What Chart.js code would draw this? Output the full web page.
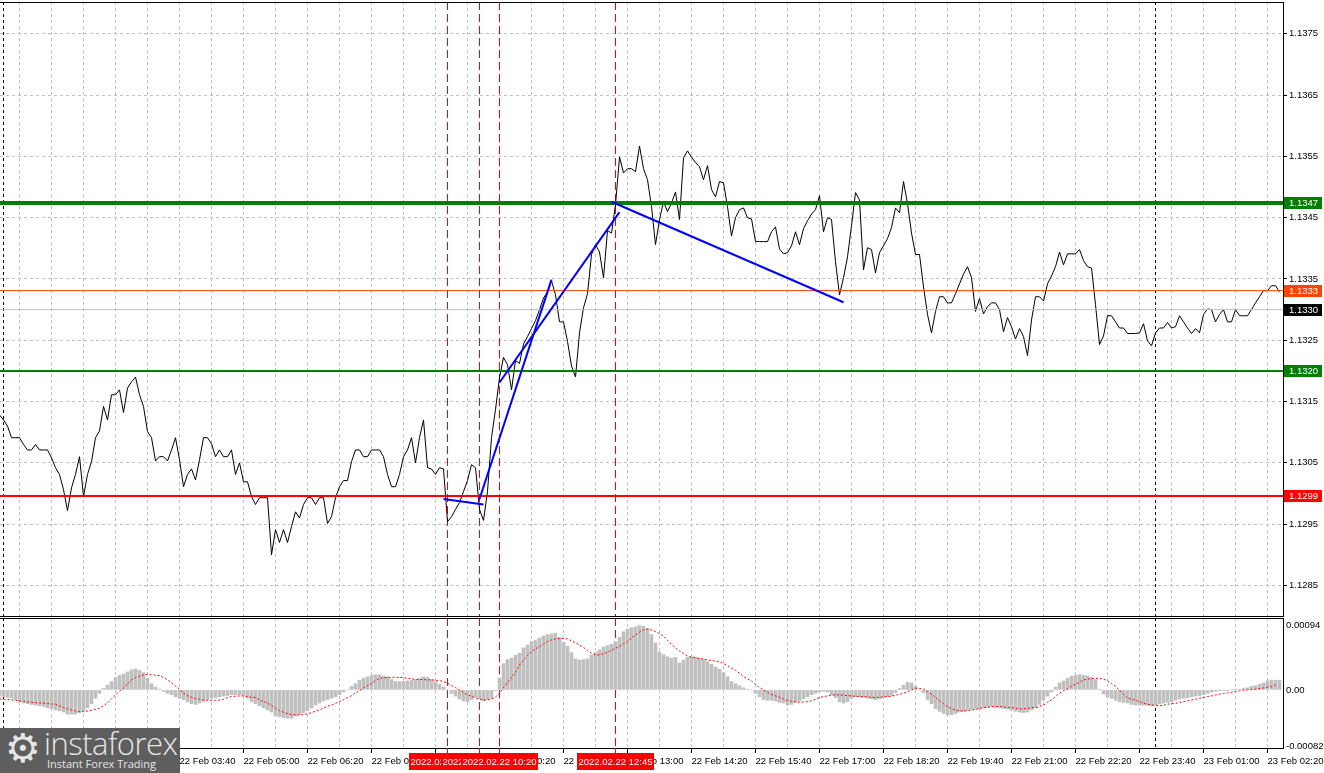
<!DOCTYPE html>
<html>
<head>
<meta charset="utf-8">
<script src="https://cdn.jsdelivr.net/npm/chart.js@4.4.1/dist/chart.umd.min.js"></script>
<style>
  body { margin: 0; background: #fff; }
  #wrap { position: relative; width: 1324px; height: 773px; overflow: hidden; background: #fff; }
  #price { position: absolute; left: 0; top: 0; }
  #macd { position: absolute; left: 0; top: 617px; }
  #logo { position: absolute; left: 0; top: 728px; width: 180px; height: 45px; background: #5e5e5e; color: #e6e6e6; font-family: "Open Sans", "DejaVu Sans", sans-serif; overflow: hidden; }
  #logo .gear { position: absolute; left: 5px; top: -1px; font-size: 40px; line-height: 42px; font-family: "DejaVu Sans"; }
  #logo .brand { position: absolute; left: 44px; top: -3px; font-size: 31px; line-height: 36px; font-weight: 300; letter-spacing: -0.5px; }
  #logo .tag { position: absolute; left: 47px; top: 29px; font-size: 11px; line-height: 13px; }
</style>
</head>
<body>
<div id="wrap">
  <canvas id="price" width="1324" height="617"></canvas>
  <canvas id="macd" width="1324" height="156"></canvas>
  <div id="logo"><span class="gear">⚙</span><span class="brand">instaforex</span><span class="tag">Instant Forex Trading</span></div>
</div>
<script>
// EURUSD M5, 22 Feb 2022. Bar 0 = 22 Feb 00:00, one bar = 5 minutes.
const firstBar = -1;
const closes = [
  1.13128, 1.13120, 1.13110, 1.13091, 1.13091, 1.13091, 1.13080, 1.13071, 1.13071, 1.13080,
  1.13071, 1.13071, 1.13071, 1.13058, 1.13042, 1.13031, 1.13006, 1.12972, 1.13009, 1.13031,
  1.13060, 1.12995, 1.13031, 1.13052, 1.13091, 1.13102, 1.13142, 1.13120, 1.13161, 1.13161,
  1.13169, 1.13132, 1.13172, 1.13182, 1.13190, 1.13161, 1.13142, 1.13101, 1.13091, 1.13053,
  1.13060, 1.13060, 1.13053, 1.13071, 1.13091, 1.13055, 1.13011, 1.13031, 1.13040, 1.13022,
  1.13055, 1.13091, 1.13091, 1.13081, 1.13060, 1.13071, 1.13060, 1.13060, 1.13071, 1.13031,
  1.13050, 1.13019, 1.13019, 1.12995, 1.12982, 1.12993, 1.12993, 1.12993, 1.12900, 1.12941,
  1.12920, 1.12941, 1.12920, 1.12946, 1.12970, 1.12960, 1.12982, 1.12993, 1.12993, 1.12982,
  1.12993, 1.12993, 1.12951, 1.12962, 1.12993, 1.13011, 1.13021, 1.13021, 1.13052, 1.13071,
  1.13071, 1.13060, 1.13060, 1.13071, 1.13071, 1.13071, 1.13060, 1.13031, 1.13011, 1.13011,
  1.13031, 1.13060, 1.13071, 1.13091, 1.13050, 1.13091, 1.13120, 1.13042, 1.13040, 1.13031,
  1.13042, 1.13040, 1.12954, 1.12962, 1.12974, 1.12985, 1.13003, 1.13021, 1.13047, 1.13042,
  1.12974, 1.12956, 1.13003, 1.13091, 1.13137, 1.13189, 1.13222, 1.13210, 1.13169, 1.13217,
  1.13212, 1.13244, 1.13256, 1.13269, 1.13282, 1.13300, 1.13319, 1.13329, 1.13347, 1.13324,
  1.13280, 1.13280, 1.13248, 1.13208, 1.13190, 1.13262, 1.13303, 1.13326, 1.13390, 1.13406,
  1.13394, 1.13352, 1.13429, 1.13425, 1.13471, 1.13549, 1.13523, 1.13530, 1.13530, 1.13525,
  1.13567, 1.13530, 1.13512, 1.13468, 1.13406, 1.13447, 1.13476, 1.13460, 1.13474, 1.13492,
  1.13447, 1.13548, 1.13559, 1.13549, 1.13540, 1.13533, 1.13512, 1.13535, 1.13496, 1.13484,
  1.13509, 1.13507, 1.13468, 1.13420, 1.13450, 1.13463, 1.13466, 1.13450, 1.13448, 1.13411,
  1.13411, 1.13411, 1.13411, 1.13427, 1.13435, 1.13399, 1.13391, 1.13393, 1.13404, 1.13427,
  1.13406, 1.13432, 1.13445, 1.13456, 1.13463, 1.13486, 1.13427, 1.13450, 1.13447, 1.13378,
  1.13324, 1.13352, 1.13386, 1.13437, 1.13491, 1.13479, 1.13365, 1.13401, 1.13398, 1.13360,
  1.13393, 1.13404, 1.13416, 1.13434, 1.13466, 1.13458, 1.13509, 1.13473, 1.13425, 1.13390,
  1.13390, 1.13337, 1.13292, 1.13262, 1.13297, 1.13321, 1.13321, 1.13311, 1.13311, 1.13326,
  1.13342, 1.13358, 1.13370, 1.13352, 1.13297, 1.13318, 1.13293, 1.13305, 1.13311, 1.13311,
  1.13300, 1.13264, 1.13287, 1.13272, 1.13252, 1.13269, 1.13256, 1.13225, 1.13283, 1.13321,
  1.13321, 1.13314, 1.13342, 1.13355, 1.13370, 1.13394, 1.13373, 1.13391, 1.13391, 1.13391,
  1.13398, 1.13380, 1.13370, 1.13368, 1.13308, 1.13243, 1.13257, 1.13290, 1.13290, 1.13280,
  1.13270, 1.13270, 1.13261, 1.13261, 1.13261, 1.13262, 1.13277, 1.13249, 1.13241, 1.13262,
  1.13270, 1.13270, 1.13279, 1.13270, 1.13272, 1.13290, 1.13280, 1.13270, 1.13261, 1.13269,
  1.13262, 1.13292, 1.13301, 1.13300, 1.13280, 1.13292, 1.13300, 1.13280, 1.13280, 1.13300,
  1.13290, 1.13290, 1.13290, 1.13300, 1.13311, 1.13321, 1.13331, 1.13331, 1.13339, 1.13339, 1.13329
];

// MACD histogram and signal, in units of 0.00001
const macdHist = [
  -9, -10, -11, -12, -14, -17, -19, -20, -21, -22,
  -23, -24, -26, -27, -29, -30, -32, -35, -35, -35,
  -33, -31, -26, -20, -12, -5, 2, 7, 12, 18,
  21, 23, 26, 29, 30, 28, 25, 17, 9, 4,
  1, -2, -5, -7, -10, -12, -14, -17, -20, -21,
  -19, -17, -14, -12, -11, -10, -9, -8, -7, -7,
  -7, -8, -12, -17, -20, -23, -26, -29, -32, -37,
  -39, -40, -41, -41, -38, -36, -33, -30, -26, -22,
  -19, -16, -14, -12, -10, -7, -3, 0, 5, 9,
  14, 17, 19, 21, 22, 22, 20, 19, 15, 12,
  12, 12, 13, 14, 15, 17, 19, 18, 15, 12,
  8, 4, 0, -5, -9, -13, -16, -17, -14, -10,
  -13, -16, -14, -12, -1, 17, 38, 44, 46, 50,
  53, 61, 65, 70, 72, 75, 78, 80, 81, 82,
  76, 69, 63, 54, 45, 43, 44, 45, 50, 54,
  58, 62, 64, 66, 70, 76, 84, 88, 90, 91,
  93, 92, 89, 80, 68, 55, 51, 48, 46, 47,
  39, 43, 47, 48, 47, 46, 44, 41, 37, 33,
  30, 25, 19, 12, 9, 6, 3, 1, 0, -5,
  -10, -14, -15, -15, -16, -18, -19, -22, -21, -18,
  -16, -13, -10, -7, -5, -3, -2, -3, -7, -11,
  -17, -19, -17, -12, -10, -10, -11, -12, -13, -14,
  -13, -11, -10, -8, -4, 2, 7, 11, 10, 5,
  0, -4, -14, -20, -27, -31, -34, -36, -36, -34,
  -32, -31, -29, -28, -27, -27, -26, -25, -24, -25,
  -26, -27, -28, -29, -31, -32, -33, -32, -29, -26,
  -21, -15, -9, -3, 4, 10, 13, 17, 20, 21,
  22, 21, 20, 18, 15, 1, -6, -10, -12, -15,
  -17, -18, -19, -21, -22, -22, -22, -22, -23, -22,
  -20, -19, -18, -17, -15, -13, -12, -11, -10, -9,
  -8, -7, -5, -3, -2, -1, -1, -1, 0, 1,
  1, 2, 3, 5, 6, 8, 10, 13, 14, 14, 14
];
const macdSignal = [
  -13, -13.5, -14, -14.5, -15, -16, -16.4, -17.4, -17.8, -18.3,
  -18.8, -19.3, -19.8, -20.3, -20.7, -23, -25.6, -27.5, -29, -30.4,
  -31.4, -31.4, -30.4, -29.4, -28, -26.5, -22.7, -18.8, -13, -7.2,
  -1.9, 2.9, 8.7, 14.5, 17.8, 19.8, 21.7, 22.7, 21.7, 21.2,
  20.7, 17.8, 14.5, 10.1, 5.8, 1.4, -5.3, -8.2, -10.6, -12.5,
  -13.5, -14.5, -15, -15, -15, -14.5, -13.5, -11, -9.6, -9.2,
  -8.7, -8.7, -9.6, -10.6, -11, -14.5, -16.9, -18.8, -22.7, -26.5,
  -29.9, -32.3, -34.2, -35.7, -36.2, -36.2, -35.7, -34.7, -32.8, -30.9,
  -29, -26.5, -23.6, -21.7, -19.3, -16.9, -14, -11, -8.2, -4.3,
  -1.4, 2.9, 6.3, 9.2, 13.5, 16.9, 17.4, 17.8, 18.3, 18.3,
  17.8, 17.8, 16.9, 15.9, 15.4, 15, 15, 14.5, 14.5, 14,
  13.5, 12, 9.6, 6.3, 3.4, 0, -3.9, -7.2, -9.2, -11.6,
  -13, -14.5, -14.5, -13, -10.1, -5.3, 3.4, 10.6, 17.8, 25.6,
  36, 43.4, 49.7, 55.5, 59.3, 62.7, 66, 70, 72.4, 73.8,
  74.3, 74.3, 73.8, 70.9, 68, 65, 61.3, 57.4, 53, 50.7,
  50.7, 52.6, 54.5, 57.4, 60.3, 62.7, 66.6, 70.4, 74.8, 79.6,
  83.5, 86.8, 87.8, 86.8, 84.4, 81.5, 77.7, 71.9, 66.1, 60.3,
  56.4, 52.6, 48.7, 47.3, 46.3, 45.3, 44.4, 43.4, 42.5, 41.5,
  40.5, 38.1, 35.2, 31.4, 28.5, 24.1, 19.3, 15.9, 13, 8.2,
  3.4, 0, -3.4, -6.8, -8.7, -10.6, -13, -15.4, -16.4, -17.4,
  -17.8, -17.4, -16.9, -15.9, -13.5, -11, -9.6, -8.7, -7.7, -7.2,
  -7.2, -7.7, -8.2, -8.7, -9.2, -9.6, -9.6, -10.1, -10.6, -11,
  -10.6, -10.1, -9.6, -9.2, -7.7, -6.3, -4.8, -2.4, 0, 2.4,
  1.9, 1.4, -2.4, -6.3, -11, -15.9, -19.8, -24, -27, -29,
  -30.4, -30.4, -29.9, -29, -28, -27, -25.6, -25, -24.6, -24,
  -24, -24.6, -25, -25.6, -26.5, -27.5, -27.5, -26.5, -26, -25.6,
  -24, -22.2, -17.8, -14.5, -9.6, -4.8, -1, 1.4, 5.8, 8.2,
  11, 14.5, 15.4, 16.4, 16.9, 16.4, 15.9, 13, 9.2, 5.3,
  -0.5, -6.3, -11.6, -13.5, -15, -16.9, -19.3, -20.7, -21.7, -22.2,
  -22.7, -22.2, -20.7, -19.8, -19.3, -18.3, -16.9, -15.9, -14.5, -13.5,
  -12, -11, -9.6, -8.7, -7.2, -6.3, -5.3, -4.3, -3.4, -2.4,
  -1.4, -0.5, 0, 0.5, 1, 1.9, 2.9, 3.9, 4.8, 7.2
];

const priceTicks = [1.1285, 1.1295, 1.1305, 1.1315, 1.1325, 1.1335, 1.1345, 1.1355, 1.1365, 1.1375];
const macdTicks = [-82, 0, 94];
const timeLabels = [
  '22 Feb 01:00', '22 Feb 02:20', '22 Feb 03:40', '22 Feb 05:00', '22 Feb 06:20',
  '22 Feb 07:40', '22 Feb 09:00', '22 Feb 10:20', '22 Feb 11:40', '22 Feb 13:00',
  '22 Feb 14:20', '22 Feb 15:40', '22 Feb 17:00', '22 Feb 18:20', '22 Feb 19:40',
  '22 Feb 21:00', '22 Feb 22:20', '22 Feb 23:40', '23 Feb 01:00', '23 Feb 02:20'
];
const firstLabelBar = 12;   // 22 Feb 01:00
const labelEvery = 16;      // bars between time labels
const gridEvery = 8;

// horizontal levels
const levelValues = [1.13474, 1.13331, 1.13300, 1.13200, 1.12996];
const levelColors = ['#008000', '#ff4500', '#c0c0c0', '#008000', '#ff0000'];
const levelBoxColors = ['#008000', '#ff4500', '#000000', '#008000', '#ff0000'];
const levelWidths = [4, 1, 1, 2, 2];

// blue trend lines: [bar, price] start and end
const trendFrom = [[110, 1.12991], [119, 1.12991], [124, 1.13181], [152, 1.13476]];
const trendTo   = [[120, 1.12982], [137, 1.13349], [154, 1.13459], [210, 1.13312]];

// vertical lines
const eventBars = [111, 119, 124, 153];
const eventLabels = ['2022.02.22 09:15', '2022.02.22 09:55', '2022.02.22 10:20', '2022.02.22 12:45'];
const dayBars = [0, 288];

const X_MIN = -0.875, X_MAX = 319.875;
const GRID = '#c0c0c0';
const FONT = { family: 'Liberation Sans', size: 9.5 };

Chart.defaults.font.family = FONT.family;
Chart.defaults.font.size = FONT.size;
Chart.defaults.color = '#000';

function gridTicks(scale) {
  const t = [];
  for (let b = firstLabelBar - gridEvery; b <= X_MAX; b += gridEvery) t.push({ value: b });
  scale.ticks = t;
}
function isLabelBar(v) {
  return (v - firstLabelBar) % labelEvery === 0 && v >= firstLabelBar;
}

const vlinesPlugin = {
  id: 'vlines',
  beforeDatasetsDraw(chart) {
    const { ctx, chartArea: a, scales: { x } } = chart;
    ctx.save();
    ctx.lineWidth = 1;
    const draw = (b, color, dash) => {
      const px = Math.floor(x.getPixelForValue(b)) + 0.5;
      ctx.strokeStyle = color;
      ctx.setLineDash(dash);
      ctx.beginPath();
      ctx.moveTo(px, a.top);
      ctx.lineTo(px, a.bottom);
      ctx.stroke();
    };
    dayBars.forEach(b => draw(b, '#000', [3, 3]));
    eventBars.forEach(b => draw(b, '#ff0000', [8, 4]));
    ctx.restore();
  }
};

const priceFrame = {
  id: 'priceFrame',
  afterDraw(chart) {
    const { ctx, chartArea: a, scales: { y } } = chart;
    ctx.save();
    ctx.strokeStyle = '#000';
    ctx.lineWidth = 1;
    ctx.beginPath();
    ctx.moveTo(a.left, a.top + 0.5);
    ctx.lineTo(a.right + 1, a.top + 0.5);
    ctx.stroke();
    ctx.font = FONT.size + 'px ' + FONT.family;
    ctx.textBaseline = 'middle';
    ctx.textAlign = 'left';
    levelValues.forEach((v, k) => {
      const py = Math.round(y.getPixelForValue(v));
      ctx.fillStyle = levelBoxColors[k];
      ctx.fillRect(a.right + 1, py - 6, 38, 12);
      ctx.fillStyle = '#fff';
      ctx.fillText((Math.floor(v * 10000 + 1e-6) / 10000).toFixed(4), a.right + 6, py);
    });
    ctx.restore();
  }
};

new Chart(document.getElementById('price'), {
  type: 'line',
  data: {
    datasets: [
      {
        data: closes.map((v, k) => ({ x: firstBar + k, y: v })),
        borderColor: '#000', borderWidth: 1, order: 3
      },
      ...levelValues.map((v, k) => ({
        data: [{ x: X_MIN, y: v }, { x: X_MAX, y: v }],
        borderColor: levelColors[k], borderWidth: levelWidths[k], order: 2
      })),
      ...trendFrom.map((f, k) => ({
        data: [{ x: f[0], y: f[1] }, { x: trendTo[k][0], y: trendTo[k][1] }],
        borderColor: '#0000ff', borderWidth: 2, order: 1
      }))
    ]
  },
  options: {
    responsive: false, animation: false, devicePixelRatio: 1,
    layout: { padding: { top: 2, bottom: 1, left: 0, right: 0 } },
    plugins: { legend: { display: false }, tooltip: { enabled: false } },
    elements: { point: { radius: 0 }, line: { tension: 0 } },
    scales: {
      x: {
        type: 'linear', min: X_MIN, max: X_MAX,
        afterBuildTicks: gridTicks,
        ticks: { display: false },
        grid: { color: GRID, drawTicks: false },
        border: { display: true, color: '#000', dash: [3, 3] },
        afterFit: s => { s.height = 0; s.paddingLeft = 0; s.paddingRight = 0; }
      },
      y: {
        position: 'right', min: 1.12800, max: 1.13802,
        afterBuildTicks: s => { s.ticks = priceTicks.map(v => ({ value: v })); },
        ticks: { callback: v => v.toFixed(4), padding: 2 },
        grid: { color: GRID, tickLength: 4, tickColor: '#000', tickBorderDash: [] },
        border: { display: true, color: '#000', dash: [3, 3] },
        afterFit: s => { s.width = 41; s.paddingTop = 0; s.paddingBottom = 0; }
      }
    }
  },
  plugins: [vlinesPlugin, priceFrame]
});

const macdFrame = {
  id: 'macdFrame',
  afterDraw(chart) {
    const { ctx, chartArea: a, scales: { x } } = chart;
    ctx.save();
    ctx.strokeStyle = '#000';
    ctx.lineWidth = 1;
    ctx.beginPath();
    ctx.moveTo(a.left, a.top + 0.5);
    ctx.lineTo(a.right + 1, a.top + 0.5);
    ctx.stroke();
    ctx.font = FONT.size + 'px ' + FONT.family;
    ctx.textBaseline = 'middle';
    ctx.textAlign = 'center';
    const boxTop = a.bottom + 5, boxH = 17;
    eventBars.forEach((b, k) => {
      const px = Math.floor(x.getPixelForValue(b)) + 0.5;
      ctx.strokeStyle = '#ff0000';
      ctx.beginPath();
      ctx.moveTo(px, a.bottom);
      ctx.lineTo(px, boxTop);
      ctx.stroke();
      const w = Math.round(ctx.measureText(eventLabels[k]).width) + 3;
      ctx.fillStyle = '#ff0000';
      ctx.fillRect(Math.round(px - w / 2), boxTop, w, boxH);
      ctx.fillStyle = '#fff';
      ctx.fillText(eventLabels[k], px, boxTop + boxH / 2 + 0.5);
    });
    ctx.restore();
  }
};

new Chart(document.getElementById('macd'), {
  type: 'bar',
  data: {
    datasets: [
      {
        type: 'line',
        data: macdSignal.map((v, k) => ({ x: firstBar + k, y: v })),
        borderColor: '#ff0000', borderWidth: 1, borderDash: [2, 2], order: 1
      },
      {
        type: 'bar',
        data: macdHist.map((v, k) => ({ x: firstBar + k, y: v })),
        backgroundColor: '#c0c0c0', barThickness: 3, order: 2
      }
    ]
  },
  options: {
    responsive: false, animation: false, devicePixelRatio: 1,
    layout: { padding: { top: 1, bottom: 0, left: 0, right: 0 } },
    plugins: { legend: { display: false }, tooltip: { enabled: false } },
    elements: { point: { radius: 0 }, line: { tension: 0 } },
    scales: {
      x: {
        type: 'linear', min: X_MIN, max: X_MAX, offset: false,
        afterBuildTicks: gridTicks,
        ticks: {
          autoSkip: false, maxRotation: 0, align: 'start', labelOffset: 0, padding: 3,
          callback: v => isLabelBar(v) ? timeLabels[(v - firstLabelBar) / labelEvery] : ''
        },
        grid: {
          offset: false, color: GRID, tickLength: 5, tickBorderDash: [],
          tickColor: c => (c.tick && isLabelBar(c.tick.value)) ? '#000' : 'rgba(0,0,0,0)'
        },
        border: { display: true, color: '#000', dash: [3, 3] },
        afterFit: s => { s.height = 25; s.paddingLeft = 0; s.paddingRight = 0; }
      },
      y: {
        position: 'right', min: -84, max: 104,
        afterBuildTicks: s => { s.ticks = macdTicks.map(v => ({ value: v })); },
        ticks: { padding: 3, callback: v => v === 0 ? '0.00' : (v / 100000).toFixed(5) },
        grid: { drawOnChartArea: false, drawTicks: false },
        border: { display: true, color: '#000' },
        afterFit: s => { s.width = 41; s.paddingTop = 0; s.paddingBottom = 0; }
      }
    }
  },
  plugins: [vlinesPlugin, macdFrame]
});
</script>
</body>
</html>
